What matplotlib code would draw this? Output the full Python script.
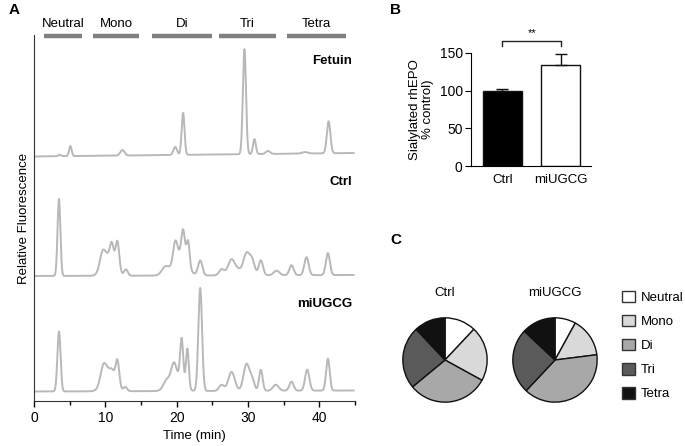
import numpy as np
import matplotlib
matplotlib.use("Agg")
import matplotlib.pyplot as plt
from matplotlib.patches import Patch

plt.rcParams["font.family"] = ["Liberation Sans", "DejaVu Sans"]

W, H = 685, 446

# ---- panel A: HPLC glycan profiles (peak tables) ----
# (retention time [min], height, width [min])
fetuin_peaks = [(3.6, 1.5, 0.2), (5.1, 10, 0.18), (12.4, 5.5, 0.3), (19.8, 8, 0.25),
                (20.9, 42, 0.2), (29.5, 105, 0.22), (30.9, 15, 0.2), (32.8, 3, 0.3),
                (38.0, 1.5, 0.4), (41.3, 32, 0.25)]
ctrl_peaks = [(3.5, 77, 0.2),
              (10.6, 20, 0.8), (9.6, 16, 0.4), (10.9, 15, 0.25), (11.7, 27, 0.25),
              (12.9, 6, 0.25),
              (18.4, 8, 0.5), (20.5, 20, 0.9), (19.8, 20, 0.3), (20.9, 28, 0.25),
              (21.6, 25, 0.22), (23.3, 15, 0.3),
              (26.3, 6, 0.35), (27.7, 16, 0.5), (28.7, 4, 0.4), (29.8, 22, 0.45),
              (30.6, 13, 0.35), (31.8, 15, 0.3),
              (34.0, 4.5, 0.4), (36.1, 10, 0.3), (38.2, 18, 0.3), (41.2, 22, 0.28)]
miugcg_peaks = [(3.5, 60, 0.22),
                (10.5, 20, 0.8), (9.7, 15, 0.4), (11.0, 5, 0.3), (11.7, 25, 0.25),
                (12.8, 4, 0.25),
                (19.8, 15, 0.9), (18.5, 6, 0.4), (19.6, 14, 0.35), (20.7, 44, 0.22),
                (21.5, 40, 0.2), (23.3, 103, 0.26),
                (26.3, 6, 0.35), (27.7, 19, 0.45), (29.8, 27, 0.42), (30.6, 10, 0.3),
                (31.8, 21, 0.25), (33.9, 6, 0.4), (36.1, 9, 0.3), (38.3, 21, 0.3),
                (41.2, 32, 0.25)]
# baseline at start / end of run
fetuin_base = (244.5, 248)
ctrl_base = (125, 126)
miugcg_base = (9.5, 10.5)

trace_names = ["Fetuin", "Ctrl", "miUGCG"]
trace_label_y = [340, 219, 97]

regions = ["Neutral", "Mono", "Di", "Tri", "Tetra"]
region_start = [1.4, 8.3, 16.5, 26.0, 35.5]
region_end = [6.7, 14.7, 25.0, 33.9, 43.7]

# ---- panel B ----
groups = ["Ctrl", "miUGCG"]
sialylated = [100, 134]
sialylated_err = [2, 15]

# ---- panel C ----
fractions = ["Neutral", "Mono", "Di", "Tri", "Tetra"]
ctrl_pct = [12, 21, 31, 24, 12]
miugcg_pct = [8, 15, 39, 25, 13]
pie_colors = ["#ffffff", "#d9d9d9", "#a8a8a8", "#5a5a5a", "#111111"]


def trace(t, peaks, base):
    y = np.linspace(base[0], base[1], len(t))
    for c, h, w in peaks:
        y = y + h * np.exp(-0.5 * ((t - c) / w) ** 2)
    return y


def fbox(x0, y0, x1, y1):
    # pixel box (top-left origin) -> figure fraction rect
    return [x0 / W, 1 - y1 / H, (x1 - x0) / W, (y1 - y0) / H]


fig = plt.figure(figsize=(W / 100, H / 100), dpi=100)

# Panel A
axA = fig.add_axes(fbox(34, 35, 355, 401))
t = np.linspace(0, 44.8, 3000)
for peaks, base in [(fetuin_peaks, fetuin_base), (ctrl_peaks, ctrl_base),
                    (miugcg_peaks, miugcg_base)]:
    axA.plot(t, trace(t, peaks, base), color="#b8b8b8", lw=1.4)
for name, ly in zip(trace_names, trace_label_y):
    axA.text(44.6, ly, name, ha="right", va="center", fontsize=9.5, fontweight="bold")
for name, s, e in zip(regions, region_start, region_end):
    axA.plot([s, e], [365, 365], color="#808080", lw=3.2, solid_capstyle="butt",
             clip_on=False)
    axA.text((s + e) / 2, 377, name, ha="center", va="center", fontsize=9.5)
axA.set_xlim(0, 45)
axA.set_ylim(0, 366)
axA.set_yticks([])
axA.set_xticks([0, 10, 20, 30, 40])
axA.set_xticks([5, 15, 25, 35, 45], minor=True)
axA.tick_params(axis="x", which="major", length=4, width=1, labelsize=10, pad=3)
axA.tick_params(axis="x", which="minor", length=3, width=1)
axA.spines["top"].set_visible(False)
axA.spines["right"].set_visible(False)
axA.spines["left"].set_color("#333333")
axA.spines["bottom"].set_color("#333333")
axA.set_xlabel("Time (min)", fontsize=9.5, labelpad=4)
axA.set_ylabel("Relative Fluorescence", fontsize=9.5, labelpad=3)
fig.text(9 / W, 1 - 10 / H, "A", fontsize=11, fontweight="bold", va="center")

# Panel B
axB = fig.add_axes(fbox(471, 53, 591, 166))
x = np.arange(len(groups))
axB.bar(x, sialylated, width=0.667, color=["#000000", "#ffffff"], edgecolor="#111111",
        lw=1.0, yerr=[[0] * len(groups), sialylated_err],
        error_kw=dict(ecolor="#111111", elinewidth=1, capsize=4, capthick=1))
axB.set_xlim(-0.538, 1.513)
axB.set_ylim(0, 150)
axB.set_yticks([0, 50, 100, 150])
axB.set_xticks(x)
axB.set_xticklabels(groups)
axB.tick_params(axis="y", length=4, labelsize=10, pad=2)
axB.tick_params(axis="x", length=0, labelsize=9.5, pad=6)
axB.spines["top"].set_visible(False)
axB.spines["right"].set_visible(False)
axB.set_ylabel("Sialylated rhEPO\n% control)", fontsize=9.5, linespacing=1.1, labelpad=4)
axB.plot([0, 0, 1, 1], [159, 166, 166, 159], color="#222222", lw=1, clip_on=False)
axB.text(0.5, 170, "**", ha="center", va="bottom", fontsize=8)
fig.text(390 / W, 1 - 10 / H, "B", fontsize=11, fontweight="bold", va="center")

# Panel C
fig.text(390 / W, 1 - 240 / H, "C", fontsize=11, fontweight="bold", va="center")
for cx, pct, name in [(445, ctrl_pct, "Ctrl"), (555, miugcg_pct, "miUGCG")]:
    r = 43
    axP = fig.add_axes(fbox(cx - r, 360 - r, cx + r, 360 + r))
    axP.pie(pct, colors=pie_colors, startangle=90, counterclock=False,
            wedgeprops=dict(edgecolor="#111111", linewidth=1.0))
    axP.set_xlim(-1.02, 1.02)
    axP.set_ylim(-1.02, 1.02)
    fig.text(cx / W, 1 - 293 / H, name, ha="center", va="center", fontsize=9.5)

handles = [Patch(facecolor=c, edgecolor="#333333", lw=1) for c in pie_colors]
fig.legend(handles, fractions, loc="upper left", bbox_to_anchor=(622 / W, 1 - 291 / H),
           frameon=False, fontsize=9.5, handlelength=0.95, handleheight=0.95,
           handletextpad=0.45, labelspacing=0.82, borderpad=0, borderaxespad=0)

fig.savefig("out.png", dpi=100)
